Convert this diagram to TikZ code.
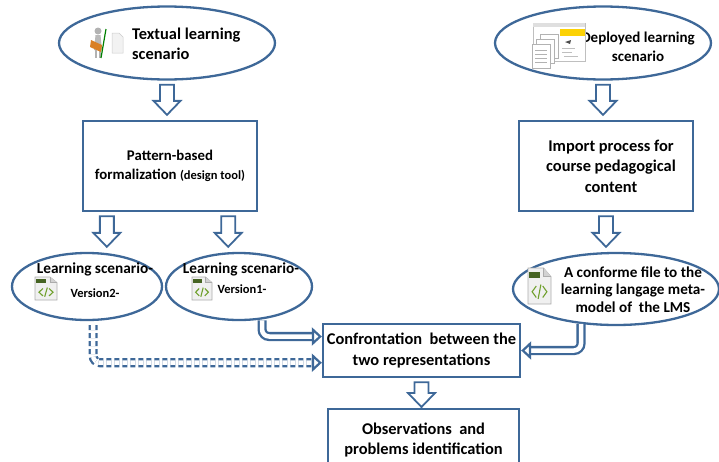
\documentclass[tikz,border=0pt]{standalone}
\usepackage{fontspec}
\setmainfont{Carlito}
\usetikzlibrary{arrows.meta,calc,shapes.geometric}

\definecolor{edgeblue}{RGB}{62,104,152}
\definecolor{xmlgreen}{RGB}{112,160,45}
\definecolor{tagdark}{RGB}{70,100,35}

% small xml file icon: position, width, height
\newcommand{\xmlicon}[3]{%
\begin{scope}[shift={#1},x=#2pt,y=-#3pt]
\filldraw[fill=gray!12,draw=gray!65,line width=0.6pt] (0,0) -- (0.68,0) -- (1,0.24) -- (1,1) -- (0,1) -- cycle;
\filldraw[fill=gray!35,draw=gray!65,line width=0.6pt] (0.68,0) -- (0.68,0.24) -- (1,0.24);
\fill[tagdark] (0.06,0.1) rectangle (0.52,0.27);
\draw[xmlgreen,line width=1.1pt] (0.36,0.5) -- (0.18,0.66) -- (0.36,0.82) (0.64,0.5) -- (0.82,0.66) -- (0.64,0.82) (0.56,0.46) -- (0.44,0.86);
\end{scope}}

\begin{document}
\begin{tikzpicture}[x=1pt,y=-1pt,
  oval/.style={ellipse,draw=edgeblue,line width=2.3pt,inner sep=0pt},
  stepbox/.style={rectangle,draw=edgeblue,line width=2.3pt,align=center,inner sep=2pt},
  bigtext/.style={font=\bfseries\fontsize{16.4}{20.5}\selectfont},
  midtext/.style={font=\bfseries\fontsize{15.2}{17.5}\selectfont},
  smalltext/.style={font=\bfseries\fontsize{12.5}{14}\selectfont},
  hollow/.style={draw=edgeblue,line width=1.8pt,fill=white,to path={let \p1=(\tikztostart),\p2=(\tikztotarget) in
    (\x1-7pt,\y1-4pt) -- (\x1-7pt,\y2+#1+14pt) -- (\x1-13.5pt,\y2+#1+14pt) -- (\x1,\y2+#1)
    -- (\x1+13.5pt,\y2+#1+14pt) -- (\x1+7pt,\y2+#1+14pt) -- (\x1+7pt,\y1-4pt) -- cycle}},
  hollow/.default=5pt,
  twin/.style={draw=edgeblue,double=white,double distance=4.5pt,line width=2.3pt,rounded corners=7pt,
    -{Triangle[open,fill=white,length=10pt,width=18pt,line width=2.2pt]}}]

\useasboundingbox (0,0) rectangle (719,461);

% top row
\node[oval,minimum width=216pt,minimum height=73pt] (textual) at (167,43) {};
\node[bigtext,anchor=west,align=left,inner sep=0pt] (textual-txt) at (132,44) {Textual learning\\scenario};
\node[oval,minimum width=216pt,minimum height=73pt] (deployed) at (603,43) {};
\node[font=\bfseries\fontsize{15}{19}\selectfont,align=center,inner sep=0pt] (deployed-txt) at (638,47) {Deployed learning\\scenario};

% figure and sheet
\fill[gray!60] (98,31) circle (3.5);
\fill[gray!55] (95.5,35) -- (100.5,35) -- (102,50) -- (94,50) -- cycle;
\draw[gray!60,line width=1.5pt] (96,50) -- (96,58) (100,50) -- (100,58);
\fill[brown!60!orange] (91,40) -- (102,45) -- (101,52) -- (90,47) -- cycle;
\draw[green!50!black,line width=1.2pt] (106,29) -- (101,58);
\filldraw[fill=gray!10,draw=gray!40,line width=0.5pt] (112,33) -- (119,33) -- (123,37) -- (123,53) -- (112,53) -- cycle;

% screenshot and pages
\filldraw[fill=white,draw=gray!50,line width=0.5pt] (533,23) rectangle (585,61);
\fill[gray!25] (533,23) rectangle (585,27);
\fill[yellow!70!orange] (560,29) rectangle (585,36);
\fill[black!70] (565,42) -- (571,40) -- (570,44) -- cycle;
\draw[gray!50,line width=0.6pt] (562,48) -- (575,48) (562,52) -- (572,52) (564,56) -- (578,56);
\foreach \o in {8,4,0}
\filldraw[fill=white,draw=gray!60,line width=0.6pt] (532+\o,44-1.25*\o) rectangle ++(18,24);
\foreach \l in {50,54,...,64}
\draw[gray!60,line width=0.6pt] (535,\l) -- (547,\l);

% boxes
\node[stepbox,minimum width=174pt,minimum height=90pt,font=\bfseries\fontsize{14.8}{19}\selectfont] (pattern) at (170,166) {Pattern-based\\formalization {\fontsize{12.5}{19}\selectfont(design tool)}};
\node[stepbox,bigtext,minimum width=174pt,minimum height=90pt] (import) at (606,166) {\hspace*{10pt}Import process for\\\hspace*{10pt}course pedagogical\\\hspace*{10pt}content};

% middle row
\node[oval,minimum width=150pt,minimum height=67pt] (vtwo) at (87,286.5) {};
\node[font=\bfseries\fontsize{15.3}{19}\selectfont,inner sep=0pt] (vtwo-txt) at (95,269) {Learning scenario-};
\node[smalltext,inner sep=0pt] (vtwo-ver) at (95,293) {Version2-};
\node[oval,minimum width=146pt,minimum height=67pt] (vone) at (239,286.5) {};
\node[font=\bfseries\fontsize{15.3}{19}\selectfont,inner sep=0pt] (vone-txt) at (241,269) {Learning scenario-};
\node[smalltext,inner sep=0pt] (vone-ver) at (242,289) {Version1-};
\node[oval,minimum width=206pt,minimum height=72pt] (conform) at (616,289) {};
\node[midtext,align=center,inner sep=0pt] (conform-txt) at (633,289.5) {A conforme file to the\\learning langage meta-\\model of \ the LMS};

\xmlicon{(35,277)}{22}{23}
\xmlicon{(192,277)}{20}{23}
\xmlicon{(528,268)}{23}{36}

% bottom
\node[stepbox,bigtext,minimum width=197pt,minimum height=53pt] (confront) at (421.5,350.5) {Confrontation \ between the\\two representations};
\node[stepbox,bigtext,minimum width=191pt,minimum height=62pt,anchor=north] (observe) at (423.5,408) {Observations \ and\\problems identification};

% block arrows
\draw[hollow] (textual.south) to (pattern.north);
\draw[hollow] (deployed.south) to (import.north);
\draw[hollow] ([xshift=25pt]pattern.south west) to (vtwo.north);
\draw[hollow] ([xshift=-30pt]pattern.south east) to (vone.north);
\draw[hollow] (import.south) to (conform.north);
\draw[hollow=1pt] (confront.south) to (observe.north);

% double arrows
\draw[twin,shorten <=1pt] (vone.-55) |- (confront.172);
\draw[twin,dash pattern=on 5pt off 3pt,shorten <=4pt] (vtwo.-80) |- (confront.187);
\draw[twin] (conform.-135) |- (confront.east);
\end{tikzpicture}
\end{document}
